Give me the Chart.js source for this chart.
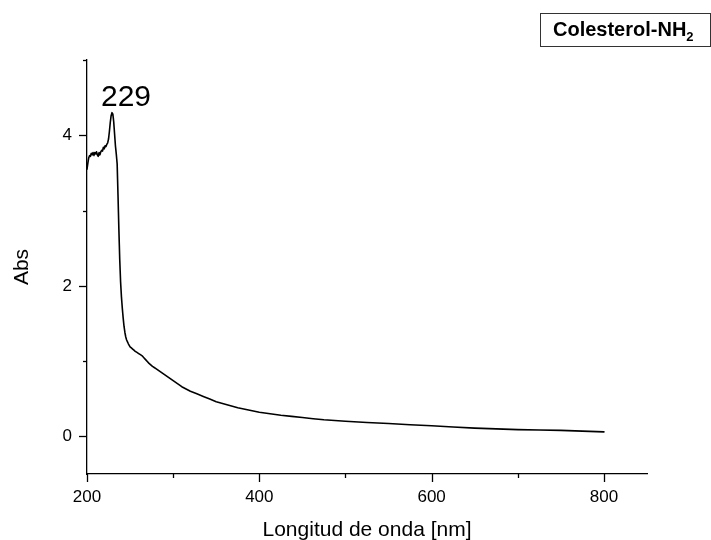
<!DOCTYPE html>
<html>
<head>
<meta charset="utf-8">
<script src="https://cdn.jsdelivr.net/npm/chart.js@4.4.0/dist/chart.umd.min.js"></script>
<style>
  body { margin: 0; background: #fff; }
  #wrap { position: relative; width: 711px; height: 540px; }
  #legend {
    position: absolute; left: 540px; top: 13px; width: 171px; height: 34px;
    box-sizing: border-box; border: 1.5px solid #333; padding-left: 12px;
    font: bold 20px "Liberation Sans", Arial, sans-serif; line-height: 31px; color: #000;
    white-space: nowrap;
  }
  #legend sub { font-size: 13px; vertical-align: -5px; line-height: 0; }
</style>
</head>
<body>
<div id="wrap">
  <canvas id="chart" width="711" height="540"></canvas>
  <div id="legend">Colesterol-NH<sub>2</sub></div>
</div>
<script>
'use strict';

// wavelength [nm] / absorbance
const wavelengths = [
    200, 201, 202, 203, 204, 205, 206, 207, 208, 209,
    210, 211, 212, 213, 214, 215, 216, 217, 218, 219,
    220, 221, 222, 223, 224, 225, 226, 227, 228, 229,
    230, 231, 232, 233, 234, 235, 236, 237, 238, 239,
    240, 241, 242, 243, 244, 245, 246, 248, 250, 253,
    256, 260, 264, 268, 272, 276, 280, 285, 290, 300,
    310, 320, 335, 350, 375, 400, 425, 450, 475, 500,
    550, 600, 650, 700, 750, 800
];
const absorbance = [
    3.55, 3.63, 3.70, 3.73, 3.72, 3.76, 3.74, 3.77, 3.73, 3.77,
    3.75, 3.78, 3.74, 3.72, 3.77, 3.74, 3.78, 3.80, 3.79, 3.84,
    3.82, 3.86, 3.85, 3.88, 3.90, 3.95, 4.05, 4.17, 4.26, 4.30,
    4.28, 4.18, 4.02, 3.86, 3.75, 3.62, 3.20, 2.75, 2.35, 2.05,
    1.85, 1.70, 1.57, 1.46, 1.38, 1.32, 1.28, 1.23, 1.19, 1.16,
    1.13, 1.10, 1.07, 1.02, 0.97, 0.93, 0.90, 0.86, 0.82, 0.74,
    0.66, 0.60, 0.53, 0.46, 0.38, 0.32, 0.28, 0.25, 0.22, 0.20,
    0.17, 0.14, 0.11, 0.09, 0.08, 0.06
];

const xTicks = [200, 300, 400, 500, 600, 700, 800];
const xTickLabels = [200, 400, 600, 800];
const yTicks = [0, 1, 2, 3, 4, 5];
const yTickLabels = [0, 2, 4];

const peakWavelength = 229;
const peakAbs = 4.30;
const peakLabel = '229';

const FONT = '"Liberation Sans", Arial, sans-serif';

// major/minor tick marks drawn outside the axes
const axisTicks = {
    id: 'axisTicks',
    afterDraw: function(chart){
        const ctx = chart.ctx;
        const xs = chart.scales.x, ys = chart.scales.y;
        const area = chart.chartArea;
        ctx.save();
        ctx.strokeStyle = '#000';
        ctx.lineWidth = 1.3;
        for( let v of xTicks ){
            const px = Math.round(xs.getPixelForValue(v)) + 0.5;
            const len = xTickLabels.includes(v) ? 8 : 4;
            ctx.beginPath();
            ctx.moveTo(px, area.bottom);
            ctx.lineTo(px, area.bottom + len);
            ctx.stroke();
        }
        for( let v of yTicks ){
            const py = Math.round(ys.getPixelForValue(v)) + 0.5;
            const len = yTickLabels.includes(v) ? 8 : 4;
            ctx.beginPath();
            ctx.moveTo(area.left, py);
            ctx.lineTo(area.left - len, py);
            ctx.stroke();
        }
        ctx.restore();
    }
};

const peakAnnotation = {
    id: 'peakAnnotation',
    afterDatasetsDraw: function(chart){
        const ctx = chart.ctx;
        const px = chart.scales.x.getPixelForValue(peakWavelength);
        const py = chart.scales.y.getPixelForValue(peakAbs);
        ctx.save();
        ctx.fillStyle = '#000';
        ctx.font = '30px ' + FONT;
        ctx.textAlign = 'left';
        ctx.textBaseline = 'alphabetic';
        ctx.fillText(peakLabel, px - 11, py - 7);
        ctx.restore();
    }
};

const points = wavelengths.map((w, i) => ({ x: w, y: absorbance[i] }));

const ctx = document.getElementById('chart').getContext('2d');
window.chart = new Chart(ctx, {
    type: 'line',
    data: {
        datasets: [{
            data: points,
            borderColor: '#000',
            borderWidth: 1.6,
            borderJoinStyle: 'round',
            borderCapStyle: 'round',
            pointRadius: 0,
            tension: 0.001, // tiny tension: avoids the fast-path pixel bucketing spikes
            fill: false,
        }],
    },
    options: {
        responsive: false,
        animation: false,
        layout: { padding: { left: 0, top: 60, right: 64, bottom: 0 } },
        plugins: {
            legend: { display: false },
            tooltip: { enabled: false },
        },
        scales: {
            x: {
                type: 'linear',
                min: 200,
                max: 850,
                afterFit: function(scale){ scale.height = 66; },
                afterBuildTicks: function(scale){
                    scale.ticks = xTicks.map(v => ({ value: v }));
                },
                grid: { display: true, drawOnChartArea: false, drawTicks: true, tickLength: 8, tickColor: 'transparent' },
                border: { display: true, color: '#000', width: 1.3 },
                ticks: {
                    autoSkip: false,
                    maxRotation: 0,
                    padding: 5,
                    color: '#000',
                    font: { family: FONT, size: 17 },
                    callback: v => xTickLabels.includes(v) ? String(v) : '',
                },
                title: {
                    display: true,
                    text: 'Longitud de onda [nm]',
                    color: '#000',
                    font: { family: FONT, size: 21, lineHeight: 1 },
                    padding: { top: 0, bottom: -1 },
                },
            },
            y: {
                min: -0.5,
                max: 5,
                afterFit: function(scale){ scale.width = 87; },
                afterBuildTicks: function(scale){
                    scale.ticks = yTicks.map(v => ({ value: v }));
                },
                grid: { display: true, drawOnChartArea: false, drawTicks: true, tickLength: 8, tickColor: 'transparent' },
                border: { display: true, color: '#000', width: 1.3 },
                ticks: {
                    padding: 7,
                    color: '#000',
                    font: { family: FONT, size: 17 },
                    callback: v => yTickLabels.includes(v) ? String(v) : '',
                },
                title: {
                    display: true,
                    text: 'Abs',
                    color: '#000',
                    font: { family: FONT, size: 21, lineHeight: 1 },
                    padding: { top: 12, bottom: 0 },
                },
            },
        },
    },
    plugins: [axisTicks, peakAnnotation],
});
</script>
</body>
</html>
